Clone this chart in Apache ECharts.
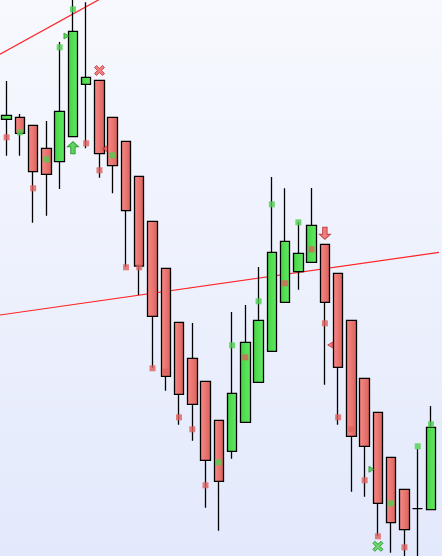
<!DOCTYPE html>
<html><head><meta charset="utf-8">
<script src="https://cdn.jsdelivr.net/npm/echarts@6/dist/echarts.min.js"></script>
<style>html,body{margin:0;padding:0;}#c{width:442px;height:556px;}</style>
</head><body><div id="c"></div>
<script>
// candles: [open, close, low, high]
const categories = Array.from({length: 33}, (_, i) => 'C' + (i + 1));
const candles = [
  [43.67, 44.07, 40.03, 47.50],
  [43.87, 42.27, 40.03, 44.20],
  [43.07, 38.43, 33.33, 43.07],
  [40.77, 38.17, 34.03, 43.50],
  [39.43, 44.47, 36.70, 51.40],
  [41.93, 52.47, 41.93, 57.60],
  [47.17, 47.87, 40.77, 55.37],
  [47.57, 40.23, 37.83, 47.57],
  [43.87, 39.03, 36.27, 43.87],
  [41.47, 34.53, 28.90, 41.47],
  [37.97, 29.00, 26.10, 37.97],
  [33.47, 23.97, 18.80, 33.47],
  [28.77, 17.97, 16.53, 28.77],
  [23.37, 16.17, 13.13, 23.37],
  [19.77, 15.17, 11.53, 23.30],
  [17.47, 9.57, 4.83, 17.47],
  [13.57, 7.47, 2.53, 13.57],
  [10.47, 16.27, 9.73, 24.40],
  [13.37, 21.37, 13.37, 25.10],
  [17.37, 23.57, 17.37, 28.90],
  [20.47, 30.37, 20.47, 37.90],
  [25.37, 31.47, 25.37, 36.77],
  [28.43, 30.27, 26.63, 33.40],
  [29.37, 33.07, 29.37, 36.80],
  [31.17, 25.37, 17.13, 31.17],
  [28.27, 18.87, 13.13, 28.27],
  [23.57, 11.97, 6.43, 23.57],
  [17.77, 10.97, 5.93, 17.77],
  [14.37, 5.27, 1.97, 14.37],
  [9.87, 3.33, 0.33, 9.87],
  [6.67, 2.63, -1.40, 6.67],
  [4.73, 4.73, -1.40, 10.70],
  [4.63, 12.87, 4.63, 15.00]
];
// small square markers: [candle index, price]
const greenDots = [[1,42.37],[3,39.67],[4,50.87],[5,54.67],[8,40.07],[16,9.37],[17,21.07],[19,25.47],[20,35.17],[22,33.37],[29,5.27],[31,10.97],[32,13.17]];
const redDots = [[0,41.87],[2,36.77],[6,41.27],[7,38.57],[9,28.87],[10,28.87],[11,18.77],[12,18.43],[13,13.87],[14,12.67],[15,7.07],[18,19.87],[21,27.27],[23,30.67],[24,23.27],[25,13.87],[26,12.67],[27,7.57],[28,1.97],[30,0.87]];
const upArrows = [[5,40.83]];
const downArrows = [[24,32.27]];
const redCrosses = [[7,48.55]];
const greenCrosses = [[28,0.97]];
const greenTriangles = [[5,52.0],[28,8.67]];
const redTriangles = [[8,40.73],[25,21.1]];
// trend lines in [candle index, price]
const trendLine1 = [[-0.5,50.17],[7.5,56.03]];
const trendLine2 = [[-0.5,24.10],[32.83,30.40]];

const G = echarts.graphic.LinearGradient;
const redFill = new G(0,0,1,0,[{offset:0,color:'#f88c88'},{offset:1,color:'#da5f5b'}]);
const greenFill = new G(0,0,1,0,[{offset:0,color:'#42d442'},{offset:1,color:'#66ea66'}]);
const arrowUp = 'path://M5,0 L10,5 L7,5 L7,12 L3,12 L3,5 L0,5 Z';
const arrowDown = 'path://M3,0 L7,0 L7,7 L10,7 L5,12 L0,7 L3,7 Z';
const cross = 'path://M2,0 L5,3 L8,0 L10,2 L7,5 L10,8 L8,10 L5,7 L2,10 L0,8 L3,5 L0,2 Z';
const triRight = 'path://M0,0 L5,3 L0,6 Z';
const triLeft = 'path://M5,0 L0,3 L5,6 Z';

const chart = echarts.init(document.getElementById('c'), null, {renderer:'canvas'});
chart.setOption({
  animation: false,
  backgroundColor: new G(0,0,0,1,[{offset:0,color:'#f7f9fe'},{offset:1,color:'#e3e9fc'}]),
  grid: {left: 0, right: 4.4, top: 0, bottom: 0},
  xAxis: [
    {type:'category', data: categories, boundaryGap: true, show: false},
    {type:'value', min: -0.5, max: 32.5, show: false}
  ],
  yAxis: {type:'value', min: 0, max: 55.6, show: false, splitLine:{show:false}},
  series: [
    {type:'line', xAxisIndex:1, data: trendLine1, clip:false, symbol:'none', lineStyle:{color:'#ff2424', width:1.2}, z:1},
    {type:'line', xAxisIndex:1, data: trendLine2, clip:false, symbol:'none', lineStyle:{color:'#ff2424', width:1.2}, z:1},
    {type:'candlestick', data: candles, barWidth: 10, clip: true,
      itemStyle:{color: greenFill, color0: redFill, borderColor:'#000', borderColor0:'#000', borderWidth:1.3}, z:2},
    {type:'scatter', data: greenDots, symbol:'rect', symbolSize:6, itemStyle:{color:'#4fcf4f'}, z:3},
    {type:'scatter', data: redDots, symbol:'rect', symbolSize:6, itemStyle:{color:'#e0605e'}, z:3},
    {type:'scatter', data: upArrows, symbol: arrowUp, symbolSize:[11,12], itemStyle:{color:'#3ccc3c', borderColor:'#138a13', borderWidth:1}, z:3},
    {type:'scatter', data: downArrows, symbol: arrowDown, symbolSize:[11,12], itemStyle:{color:'#f06262', borderColor:'#b02020', borderWidth:1}, z:3},
    {type:'scatter', data: redCrosses, symbol: cross, symbolSize:10, itemStyle:{color:'#f06262', borderColor:'#c03030', borderWidth:1}, z:3},
    {type:'scatter', data: greenCrosses, symbol: cross, symbolSize:10, itemStyle:{color:'#4cd44c', borderColor:'#138a13', borderWidth:1}, z:3},
    {type:'scatter', data: greenTriangles, symbol: triRight, symbolSize:[5,6], symbolOffset:[-6.5,0], itemStyle:{color:'#3ccc3c', borderColor:'#138a13', borderWidth:0.8}, z:3},
    {type:'scatter', data: redTriangles, symbol: triLeft, symbolSize:[5,6], symbolOffset:[-8,0], itemStyle:{color:'#f06262', borderColor:'#b02020', borderWidth:0.8}, z:3}
  ]
});
</script></body></html>
